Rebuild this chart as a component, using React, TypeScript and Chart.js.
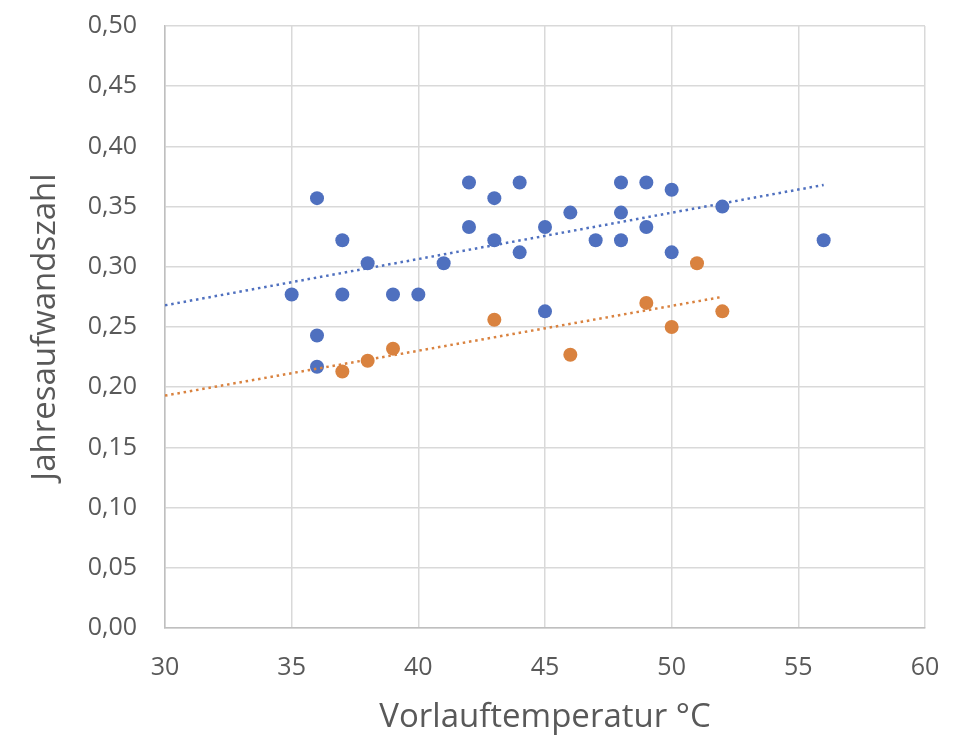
import React, { useEffect, useRef } from "react";
import Chart from "chart.js/auto";

// Vorlauftemperatur (°C) vs. Jahresaufwandszahl
const blueX = [35, 36, 36, 36, 37, 37, 38, 39, 40, 41, 42, 42, 43, 43, 44, 44, 45, 45, 46, 47, 48, 48, 48, 49, 49, 50, 50, 52, 56];
const blueY = [0.277, 0.357, 0.243, 0.217, 0.322, 0.277, 0.303, 0.277, 0.277, 0.303, 0.370, 0.333, 0.357, 0.322, 0.370, 0.312, 0.333, 0.263, 0.345, 0.322, 0.370, 0.345, 0.322, 0.370, 0.333, 0.364, 0.312, 0.350, 0.322];

const orangeX = [37, 38, 39, 43, 46, 49, 50, 51, 52];
const orangeY = [0.213, 0.222, 0.232, 0.256, 0.227, 0.270, 0.250, 0.303, 0.263];

// trendline end points
const blueTrendX = [30, 56];
const blueTrendY = [0.268, 0.368];
const orangeTrendX = [30, 52];
const orangeTrendY = [0.193, 0.275];

const BLUE = "#4F70BF";
const ORANGE = "#D9823F";
const FONT = "'Open Sans', sans-serif";

const pts = (xs: number[], ys: number[]) => xs.map((x, i) => ({ x, y: ys[i] }));

const App: React.FC = () => {
  const chartRef = useRef<HTMLCanvasElement>(null);

  useEffect(() => {
    document.body.style.margin = "0";
    if (!chartRef.current) return;
    const ctx = chartRef.current.getContext("2d");
    if (!ctx) return;

    const chart = new Chart(ctx, {
      type: "scatter",
      data: {
        datasets: [
          {
            label: "Trend blau",
            type: "line",
            data: pts(blueTrendX, blueTrendY),
            borderColor: BLUE,
            borderWidth: 2.5,
            borderDash: [2.5, 3.8],
            pointRadius: 0,
            fill: false,
          },
          {
            label: "Trend orange",
            type: "line",
            data: pts(orangeTrendX, orangeTrendY),
            borderColor: ORANGE,
            borderWidth: 2.5,
            borderDash: [2.5, 3.8],
            pointRadius: 0,
            fill: false,
          },
          {
            label: "Reihe 1",
            data: pts(blueX, blueY),
            backgroundColor: BLUE,
            borderColor: BLUE,
            pointRadius: 7,
            pointBorderWidth: 0,
          },
          {
            label: "Reihe 2",
            data: pts(orangeX, orangeY),
            backgroundColor: ORANGE,
            borderColor: ORANGE,
            pointRadius: 7,
            pointBorderWidth: 0,
          },
        ],
      },
      options: {
        responsive: false,
        animation: false,
        layout: { padding: { top: 26, right: 33, left: 0, bottom: 0 } },
        plugins: {
          legend: { display: false },
          tooltip: { enabled: false },
        },
        scales: {
          x: {
            type: "linear",
            min: 30,
            max: 60,
            afterFit: (s: any) => {
              s.height = 110;
              s.paddingLeft = 0;
              s.paddingRight = 0;
            },
            ticks: {
              stepSize: 5,
              padding: 25,
              color: "#595959",
              font: { family: FONT, size: 25 },
            },
            grid: { color: "#d9d9d9", lineWidth: 1.5, drawTicks: false },
            border: { color: "#bfbfbf", width: 1.5 },
            title: {
              display: true,
              text: "Vorlauftemperatur °C",
              color: "#595959",
              font: { family: FONT, size: 33, lineHeight: 1.2 },
              padding: { top: 0, bottom: 1 },
            },
          },
          y: {
            min: 0,
            max: 0.5,
            afterFit: (s: any) => {
              s.width = 165;
              s.paddingTop = 0;
              s.paddingBottom = 0;
            },
            ticks: {
              stepSize: 0.05,
              padding: 28,
              color: "#595959",
              font: { family: FONT, size: 25 },
              callback: (v: any) => Number(v).toFixed(2).replace(".", ","),
            },
            grid: { color: "#d9d9d9", lineWidth: 1.5, drawTicks: false },
            border: { color: "#bfbfbf", width: 1.5 },
            title: {
              display: true,
              text: "Jahresaufwandszahl",
              color: "#595959",
              font: { family: FONT, size: 33, lineHeight: 1.2 },
              padding: { top: 26, bottom: 0 },
            },
          },
        },
      },
    });

    return () => {
      chart.destroy();
    };
  }, []);

  return (
    <div style={{ width: 958, height: 738, background: "#fff" }}>
      <canvas ref={chartRef} width={958} height={738} />
    </div>
  );
};

export default App;
